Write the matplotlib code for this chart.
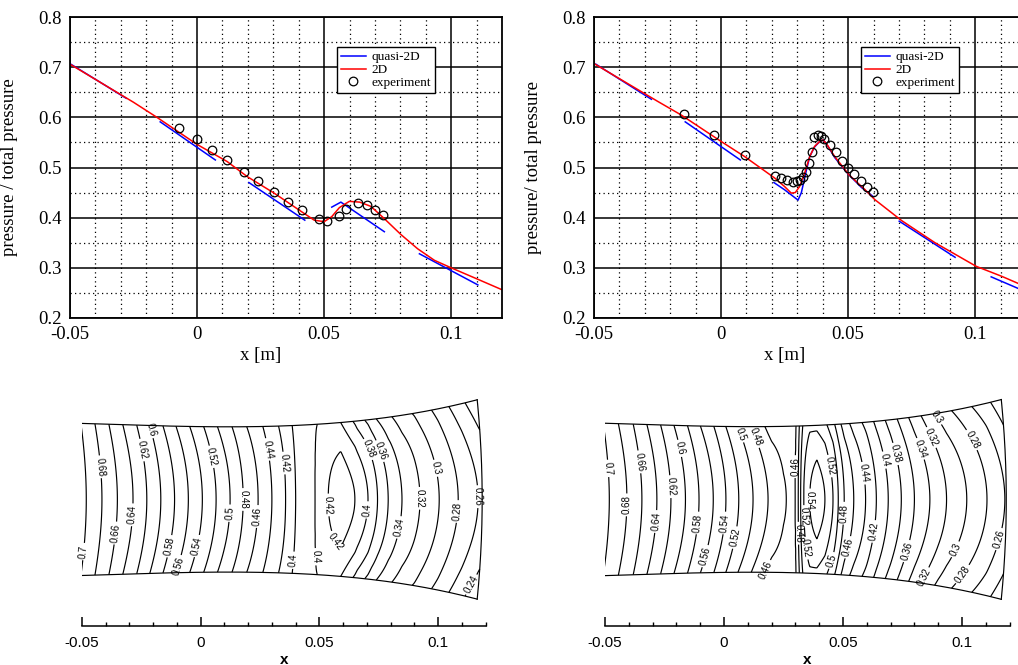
import matplotlib
matplotlib.use('Agg')
import matplotlib.pyplot as plt
import numpy as np
from matplotlib.ticker import FixedLocator, MultipleLocator

plt.rcParams['font.family'] = 'Liberation Serif'
plt.rcParams['axes.unicode_minus'] = False

nan = np.nan

# ---------------- top left: pressure ratio, case 1 ----------------
l_2d_x = [-0.05, -0.025, -0.0158, 0.0, 0.0118, 0.0197, 0.0303, 0.0408, 0.0461, 0.0500,
          0.0530, 0.0560, 0.0599, 0.0640, 0.0684, 0.0737, 0.0803, 0.0868, 0.0934, 0.1,
          0.1092, 0.1197]
l_2d_p = [0.706, 0.630, 0.600, 0.546, 0.512, 0.482, 0.449, 0.413, 0.395, 0.392,
          0.402, 0.420, 0.4325, 0.431, 0.4225, 0.398, 0.366, 0.338, 0.315, 0.300,
          0.280, 0.257]
l_q2d_x = [-0.0497, -0.0279, nan, -0.0145, 0.0072, nan, 0.0204, 0.0424, nan,
           0.0530, 0.0566, 0.0737, nan, 0.0875, 0.1105]
l_q2d_p = [0.706, 0.638, nan, 0.591, 0.515, nan, 0.470, 0.395, nan,
           0.421, 0.431, 0.372, nan, 0.328, 0.266]
l_exp_x = [-0.0072, -0.0001, 0.0057, 0.0118, 0.0186, 0.0241, 0.0301, 0.0359, 0.0414,
           0.0478, 0.0513, 0.0557, 0.0587, 0.0632, 0.0668, 0.0701, 0.0732]
l_exp_p = [0.5795, 0.5563, 0.5358, 0.5146, 0.492, 0.4722, 0.4517, 0.4318, 0.4146,
           0.3974, 0.3934, 0.4026, 0.4172, 0.4291, 0.4252, 0.4159, 0.4046]

# ---------------- top right: pressure ratio, case 2 ----------------
r_2d_x = [-0.0496, -0.025, -0.0158, 0.0, 0.0092, 0.0211, 0.025, 0.0276, 0.0292, 0.0309,
          0.0329, 0.0349, 0.0368, 0.0388, 0.0401, 0.0414, 0.0447, 0.0504, 0.0566, 0.0605,
          0.0711, 0.0842, 0.1004, 0.1105, 0.1178]
r_2d_p = [0.706, 0.632, 0.605, 0.552, 0.522, 0.479, 0.462, 0.449, 0.450, 0.462,
          0.489, 0.522, 0.542, 0.552, 0.555, 0.548, 0.522, 0.485, 0.456, 0.436,
          0.394, 0.350, 0.303, 0.283, 0.267]
r_q2d_x = [-0.0493, -0.0274, nan, -0.0141, 0.0076, nan,
           0.0208, 0.025, 0.0303, 0.0316, 0.0336, 0.0349, 0.0368, 0.0388, 0.0401, 0.0414,
           0.0447, 0.0500, 0.0553, 0.0599, nan, 0.0701, 0.0921, nan, 0.1063, 0.1178]
r_q2d_p = [0.706, 0.636, nan, 0.591, 0.515, nan,
           0.470, 0.4556, 0.435, 0.450, 0.495, 0.522, 0.541, 0.5517, 0.555, 0.548,
           0.520, 0.487, 0.460, 0.442, nan, 0.393, 0.321, nan, 0.282, 0.257]
r_exp_x = [-0.0147, -0.0026, 0.0093, 0.0213, 0.0237, 0.0261, 0.0284, 0.0300, 0.0312,
           0.0324, 0.0334, 0.0345, 0.0357, 0.0367, 0.0380, 0.0392, 0.0405, 0.0430,
           0.0454, 0.0476, 0.0501, 0.0525, 0.0549, 0.0574, 0.0597]
r_exp_p = [0.6073, 0.5649, 0.5245, 0.4834, 0.4781, 0.4742, 0.4715, 0.4722, 0.4748,
           0.4801, 0.4901, 0.5086, 0.5318, 0.5616, 0.5649, 0.5629, 0.5576, 0.545,
           0.5318, 0.5139, 0.4987, 0.4874, 0.4735, 0.4609, 0.4503]

# ---------------- nozzle geometry (half height) ----------------
wall_x = [-0.0504, -0.0129, 0.0, 0.0334, 0.0482, 0.0714, 0.0924, 0.1165]
wall_h = [0.0321, 0.0308, 0.0305, 0.0313, 0.0316, 0.0336, 0.0365, 0.0421]

bl_cx = [-0.056, -0.0482, -0.0416, -0.0351, -0.0285, -0.0227, -0.0168, -0.0110, -0.0052,
         0.0007, 0.0065, 0.0124, 0.0179, 0.0242, 0.0300, 0.0358, 0.0400, 0.0445, 0.0482,
         0.0537, 0.0590, 0.0650, 0.0705, 0.0745, 0.0790, 0.0848, 0.0924, 0.1005, 0.1085,
         0.1169, 0.1260]
bl_cp = [0.724, 0.70, 0.68, 0.66, 0.64, 0.62, 0.60, 0.58, 0.56,
         0.54, 0.52, 0.50, 0.48, 0.46, 0.44, 0.42, 0.40, 0.393, 0.40,
         0.42, 0.433, 0.42, 0.40, 0.38, 0.36, 0.34, 0.32, 0.30, 0.28,
         0.26, 0.24]
bl_ax = [-0.05, -0.03, -0.01, 0.01, 0.03, 0.040, 0.048, 0.053, 0.059, 0.066, 0.072,
         0.08, 0.09, 0.10, 0.11, 0.12]
bl_ad = [0.007, 0.014, 0.018, 0.018, 0.012, 0.006, 0.0, 0.015, 0.033, 0.045, 0.045,
         0.035, 0.028, 0.028, 0.032, 0.04]

br_cx = [-0.056, -0.0482, -0.0408, -0.0345, -0.0282, -0.0223, -0.0162, -0.0105, -0.0045,
         0.0008, 0.0062, 0.0122, 0.0185, 0.0250, 0.0285, 0.0300, 0.0312, 0.0322, 0.0335,
         0.0360, 0.0390, 0.0424, 0.0458, 0.0480, 0.0505, 0.0545, 0.0595, 0.0640, 0.0690,
         0.0745, 0.0800, 0.0865, 0.0935, 0.1020, 0.1105, 0.1180, 0.1260]
br_cp = [0.724, 0.70, 0.68, 0.66, 0.64, 0.62, 0.60, 0.58, 0.56,
         0.54, 0.52, 0.50, 0.48, 0.462, 0.456, 0.46, 0.48, 0.50, 0.52,
         0.54, 0.55, 0.54, 0.52, 0.50, 0.48, 0.46, 0.44, 0.42, 0.40,
         0.38, 0.36, 0.34, 0.32, 0.30, 0.28, 0.26, 0.24]
br_ax = [-0.05, -0.03, -0.01, 0.01, 0.02, 0.026, 0.029, 0.0335, 0.039, 0.045, 0.05,
         0.06, 0.07, 0.08, 0.09, 0.10, 0.11, 0.12]
br_ad = [0.008, 0.014, 0.018, 0.022, 0.025, 0.015, 0.0, 0.015, 0.035, 0.035, 0.03,
         0.025, 0.025, 0.03, 0.035, 0.035, 0.035, 0.04]

levels = np.round(np.arange(0.24, 0.721, 0.02), 2)

# label spots on the contour maps (x, y in m)
bl_labels = [(-0.0213, 0.0293), (-0.0417, 0.0138), (-0.0242, 0.0209), (0.0047, 0.018),
             (0.0271, 0.0209), (0.0348, 0.0153), (0.018, 0.0), (0.0124, -0.0058),
             (0.0243, -0.0072), (-0.0284, -0.0065), (-0.0354, -0.0142), (-0.0488, -0.0220),
             (-0.0122, -0.0199), (-0.0087, -0.0283), (-0.0003, -0.0199), (0.0377, -0.0255),
             (0.0489, -0.0241), (0.0545, -0.0023), (0.058, -0.0171), (0.07, -0.0044),
             (0.07, 0.0209), (0.077, 0.0209), (0.0854, -0.0121), (0.0924, 0.0005),
             (0.0988, 0.0131), (0.1086, -0.0051), (0.118, 0.0012), (0.1156, -0.0367)]
br_labels = [(-0.0479, 0.0131), (-0.0346, 0.0159), (-0.0185, 0.0215), (-0.0402, -0.0023),
             (-0.022, 0.0054), (-0.0283, -0.0093), (-0.0101, -0.01), (-0.0073, -0.024),
             (0.0011, -0.01), (0.006, -0.0163), (0.0081, 0.0278), (0.0137, 0.0264),
             (0.0186, -0.0303), (0.0291, 0.0138), (0.0312, -0.0142), (0.033, -0.0072),
             (0.0347, -0.0205), (0.0361, -0.0002), (0.0432, 0.0138), (0.0445, -0.0254),
             (0.0508, -0.0058), (0.0537, -0.0205), (0.0585, 0.011), (0.0634, -0.0135),
             (0.0676, 0.0166), (0.0732, 0.0194), (0.0774, -0.0219), (0.0852, 0.0222),
             (0.0894, 0.0271), (0.0858, -0.0338), (0.0921, 0.0362), (0.0992, -0.0219),
             (0.1055, 0.0257), (0.1026, -0.0331), (0.1167, -0.017)]


def line_panel(ax, x2d, p2d, xq, pq, xe, pe, ylabel):
    ax.plot(xq, pq, color='#0000ff', lw=1.1, label='quasi-2D')
    ax.plot(x2d, p2d, color='#ff0000', lw=1.1, label='2D')
    ax.plot(xe, pe, 'o', mfc='none', mec='k', ms=6.2, mew=0.9, label='experiment')
    ax.set_xlim(-0.05, 0.12)
    ax.set_ylim(0.2, 0.8)
    ax.xaxis.set_major_locator(FixedLocator([-0.05, 0.0, 0.05, 0.1]))
    ax.set_xticklabels(['-0.05', '0', '0.05', '0.1'])
    ax.xaxis.set_minor_locator(MultipleLocator(0.01))
    ax.yaxis.set_major_locator(FixedLocator([0.2, 0.3, 0.4, 0.5, 0.6, 0.7, 0.8]))
    ax.set_yticklabels(['0.2', '0.3', '0.4', '0.5', '0.6', '0.7', '0.8'])
    ax.yaxis.set_minor_locator(MultipleLocator(0.05))
    ax.grid(which='major', color='k', lw=1.1, ls='-')
    ax.grid(which='minor', color='k', lw=0.9, ls=(0, (1, 2.6)))
    ax.tick_params(which='both', direction='in', labelsize=13.5, pad=6, length=0)
    for s in ax.spines.values():
        s.set_linewidth(1.3)
    ax.set_xlabel('x [m]', fontsize=13.5)
    ax.xaxis.set_label_coords(0.441, -0.095)
    ax.set_ylabel(ylabel, fontsize=13.5)
    ax.yaxis.set_label_coords(-0.12, 0.5)
    leg = ax.legend(loc='upper left', bbox_to_anchor=(0.618, 0.90), fontsize=9.5,
                    fancybox=False, edgecolor='k', framealpha=1, borderaxespad=0,
                    handlelength=1.9, labelspacing=0.05, borderpad=0.3,
                    handletextpad=0.4)
    leg.get_frame().set_linewidth(1.0)


def nozzle_panel(ax, cx, cp, dx, dp, label_pts, ylim):
    xi = np.linspace(wall_x[0], wall_x[-1], 500)
    eta = np.linspace(-1, 1, 161)
    h = np.polyval(np.polyfit(wall_x, wall_h, 3), xi)
    bulge = 0.0021 * (xi - xi[0]) / (xi[-1] - xi[0])
    E, XI = np.meshgrid(eta, xi, indexing='ij')
    X = XI + bulge[None, :] * (1 - E ** 2)
    Y = E * h[None, :]
    P = np.interp(X, cx, cp) - np.interp(X, dx, dp) * E ** 2
    ax.set_xlim(-0.05, 0.12)
    ax.set_ylim(*ylim)
    cs = ax.contour(X, Y, P, levels=levels, colors='k', linewidths=0.85)
    with plt.rc_context({'font.family': 'Liberation Sans'}):
        ax.clabel(cs, fmt='%g', fontsize=7, manual=label_pts, inline=True,
                  inline_spacing=2)
    for t in cs.labelTexts:
        t.set_clip_on(False)
    ax.plot(X[0], Y[0], color='k', lw=0.85)
    ax.plot(X[-1], Y[-1], color='k', lw=0.85)
    ax.plot(X[:, -1], Y[:, -1], color='k', lw=0.85)
    for side in ['left', 'right', 'top']:
        ax.spines[side].set_visible(False)
    ax.spines['bottom'].set_linewidth(1.1)
    ax.set_yticks([])
    ax.xaxis.set_major_locator(FixedLocator([-0.05, 0.0, 0.05, 0.1]))
    ax.set_xticklabels(['-0.05', '0', '0.05', '0.1'])
    ax.xaxis.set_minor_locator(MultipleLocator(0.01))
    ax.tick_params(which='major', direction='in', length=6.5, width=1.1,
                   labelsize=11, pad=7, labelfontfamily='Liberation Sans')
    ax.tick_params(which='minor', direction='in', length=3.2, width=1.0)
    ax.set_xlabel('x', fontsize=11, fontweight='bold', family='Liberation Sans',
                  labelpad=2)


fig = plt.figure(figsize=(10.18, 6.65), dpi=100)

ax1 = fig.add_axes([70 / 1018, 1 - 318 / 665, 432 / 1018, 301 / 665])
line_panel(ax1, l_2d_x, l_2d_p, l_q2d_x, l_q2d_p, l_exp_x, l_exp_p,
           'pressure / total pressure')

ax2 = fig.add_axes([594 / 1018, 1 - 318 / 665, 432 / 1018, 301 / 665])
line_panel(ax2, r_2d_x, r_2d_p, r_q2d_x, r_q2d_p, r_exp_x, r_exp_p,
           'pressure/ total pressure')

ax3 = fig.add_axes([82 / 1018, 1 - 626 / 665, 403.5 / 1018, 236 / 665])
nozzle_panel(ax3, bl_cx, bl_cp, bl_ax, bl_ad, bl_labels, (-0.0533, 0.0461))

ax4 = fig.add_axes([605 / 1018, 1 - 626 / 665, 404.6 / 1018, 236 / 665])
nozzle_panel(ax4, br_cx, br_cp, br_ax, br_ad, br_labels, (-0.0532, 0.0460))

fig.savefig('out.png', dpi=100)
